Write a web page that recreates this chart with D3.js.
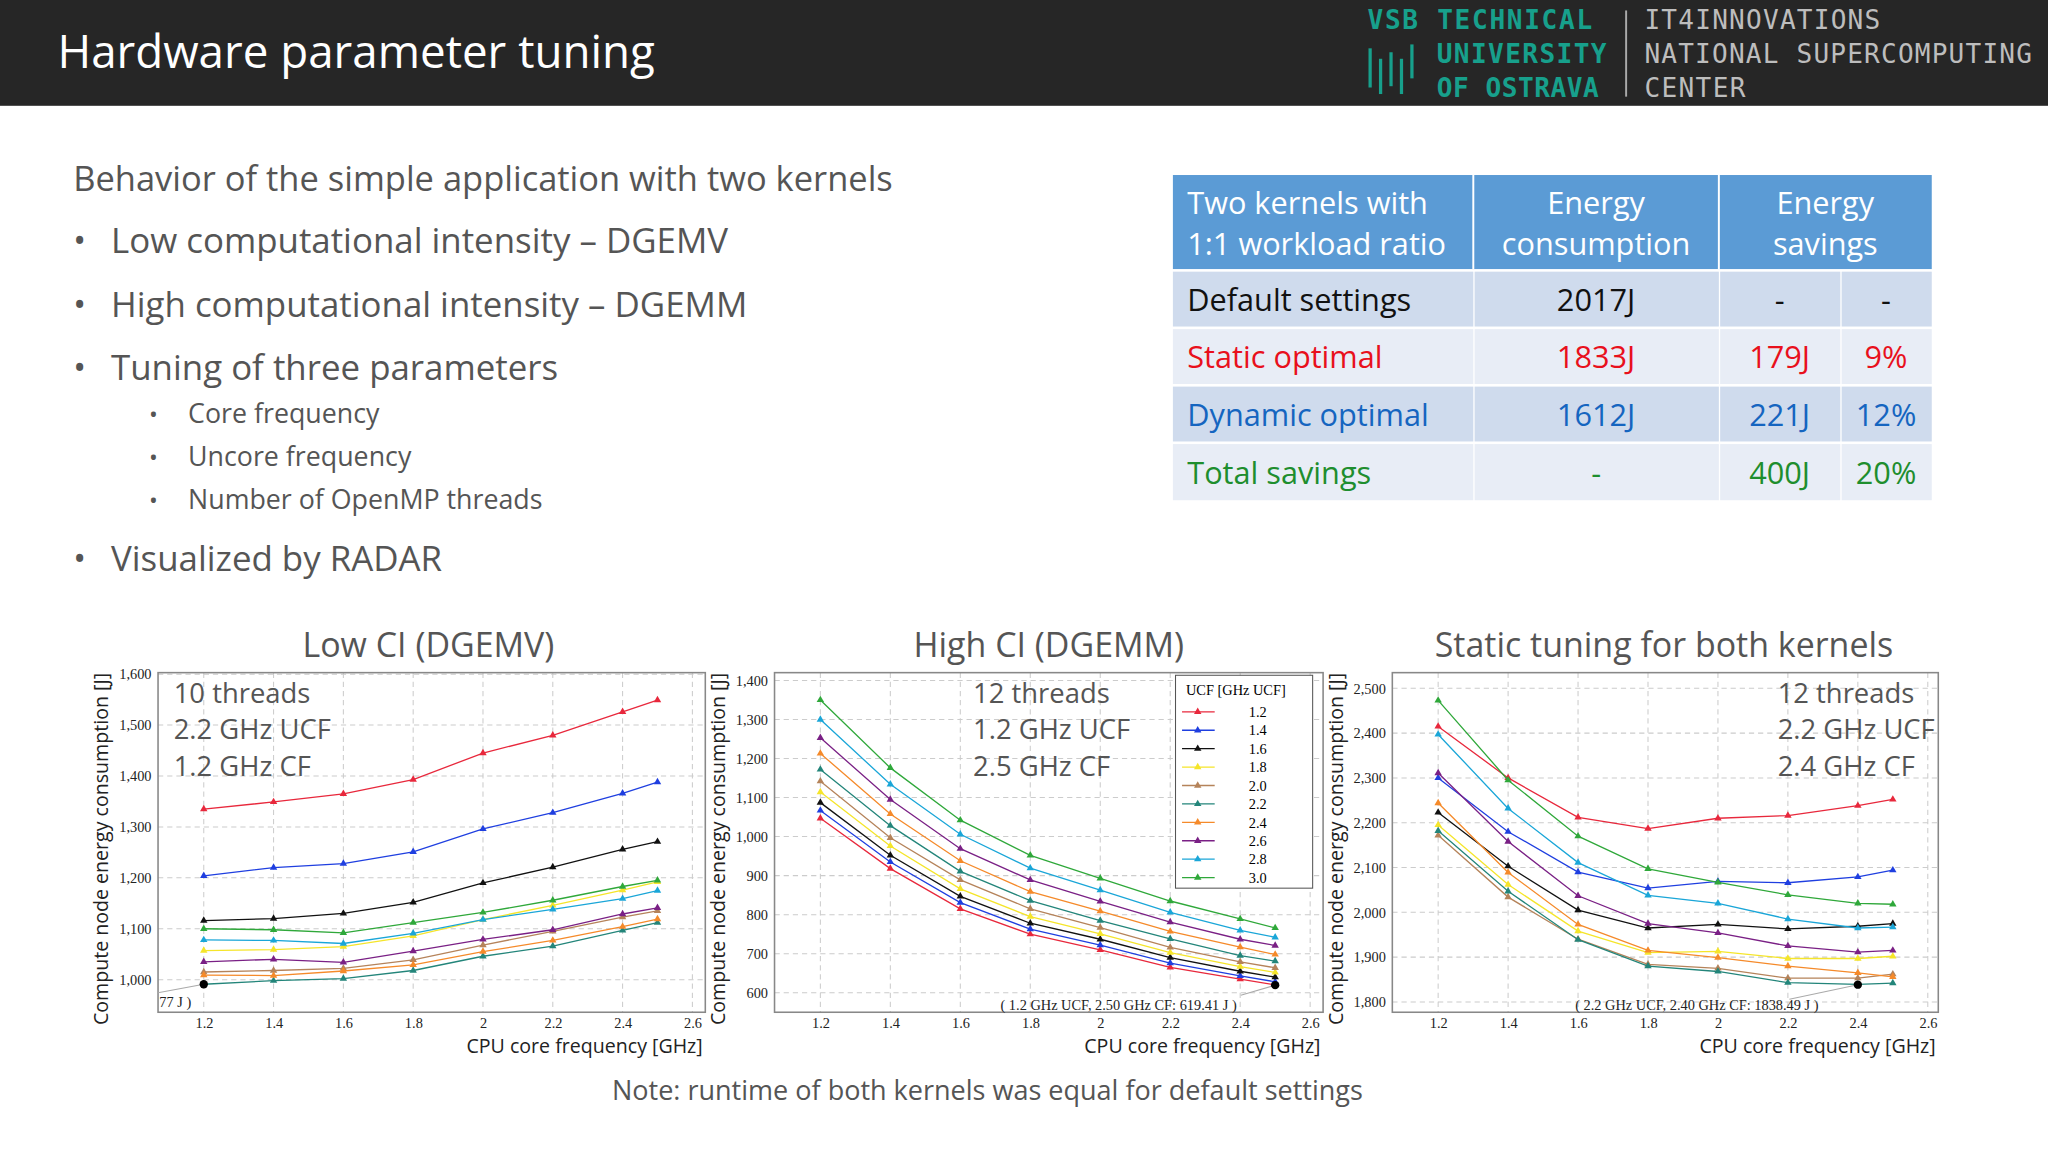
<!DOCTYPE html>
<html><head><meta charset="utf-8">
<script src="https://cdn.jsdelivr.net/npm/d3@7"></script>
<style>
body{margin:0;background:#fff;}
svg{display:block;}
</style></head>
<body>
<script>
// series data
const freqs = [1.2, 1.4, 1.6, 1.8, 2.0, 2.2, 2.4, 2.5];
const ucfLabels = ["1.2","1.4","1.6","1.8","2.0","2.2","2.4","2.6","2.8","3.0"];
const ucfColors = ["#e8283c","#1f3fe0","#111111","#f5e52a","#b5835a","#23857a","#f58a2a","#7a2085","#1aa6d8","#2fa83a"];

const lowCI = [
  [1335,1349,1365,1393,1445,1480,1526,1549],
  [1204,1220,1228,1251,1296,1328,1366,1388],
  [1116,1120,1130,1152,1190,1221,1256,1271],
  [1057,1059,1065,1086,1118,1146,1176,1192],
  [1015,1018,1022,1039,1068,1095,1123,1135],
  [991,998,1002,1018,1046,1066,1097,1112],
  [1009,1008,1017,1029,1055,1077,1104,1119],
  [1035,1040,1034,1056,1079,1098,1129,1141],
  [1078,1077,1071,1091,1118,1138,1159,1175],
  [1100,1098,1092,1112,1132,1156,1183,1195]
];
const highCI = [
  [1047,918,815,750,710,665,635,620],
  [1067,935,831,763,722,676,643,628],
  [1087,952,847,778,737,690,655,640],
  [1114,976,866,795,751,703,667,652],
  [1142,997,889,815,767,716,679,664],
  [1172,1028,911,836,785,738,695,681],
  [1213,1058,938,859,809,757,717,698],
  [1253,1095,969,889,834,781,737,721],
  [1300,1134,1006,919,863,806,760,742],
  [1350,1176,1042,952,893,835,789,766]
];
const staticBoth = [
  [2415,2300,2212,2187,2210,2216,2238,2252],
  [2300,2180,2090,2054,2069,2066,2079,2094],
  [2223,2103,2005,1965,1973,1963,1969,1975],
  [2195,2062,1958,1910,1913,1897,1897,1902],
  [2172,2034,1940,1884,1875,1853,1853,1862],
  [2182,2047,1939,1880,1868,1843,1839,1842],
  [2244,2089,1973,1915,1899,1880,1865,1856],
  [2311,2158,2037,1975,1954,1925,1911,1915],
  [2397,2232,2111,2038,2020,1985,1965,1967],
  [2473,2295,2170,2097,2067,2039,2020,2018]
];

const bullets = ["Low computational intensity – DGEMV","High computational intensity – DGEMM","Tuning of three parameters"];
const subBullets = ["Core frequency","Uncore frequency","Number of OpenMP threads"];

const tableHeader = ["Two kernels with|1:1 workload ratio","Energy|consumption","Energy|savings"];
const tableRows = [
  {label:"Default settings", cons:"2017J", save:"-", pct:"-", color:"#111"},
  {label:"Static optimal", cons:"1833J", save:"179J", pct:"9%", color:"#e8101c"},
  {label:"Dynamic optimal", cons:"1612J", save:"221J", pct:"12%", color:"#1565c0"},
  {label:"Total savings", cons:"-", save:"400J", pct:"20%", color:"#1e8e2e"}
];

const W = 1568, H = 882;
const svg = d3.select("body").append("svg")
  .attr("width", 2048).attr("height", 1152)
  .attr("viewBox", `0 0 ${W} ${H}`);
const sans = "'Open Sans', 'Noto Sans', sans-serif";
const mono = "'DejaVu Sans Mono', monospace";
const serif = "'Liberation Serif', 'DejaVu Serif', serif";

// header bar
svg.append("rect").attr("width", W).attr("height", 81).attr("fill", "#262626");
svg.append("text").attr("x", 44).attr("y", 52).attr("fill", "#fff")
  .attr("font-family", sans).attr("font-size", 35).text("Hardware parameter tuning");

const teal = "#17a08c";
["VSB TECHNICAL","UNIVERSITY","OF OSTRAVA"].forEach((t, i) => {
  svg.append("text").attr("x", i == 0 ? 1047 : 1100).attr("y", 22 + i * 26)
    .attr("fill", teal).attr("font-family", mono).attr("font-weight", "bold")
    .attr("font-size", 20).attr("textLength", i == 0 ? 172 : (i == 1 ? 130 : 124)).text(t);
});
[[1049,37,67],[1057,45,72],[1065,40,66],[1073,45,72],[1081,34,60]].forEach(b => {
  svg.append("line").attr("x1", b[0]).attr("x2", b[0]).attr("y1", b[1]).attr("y2", b[2])
    .attr("stroke", teal).attr("stroke-width", 2.5);
});
svg.append("line").attr("x1", 1245).attr("x2", 1245).attr("y1", 8).attr("y2", 74)
  .attr("stroke", "#aaa").attr("stroke-width", 1.5);
["IT4INNOVATIONS","NATIONAL SUPERCOMPUTING","CENTER"].forEach((t, i) => {
  svg.append("text").attr("x", 1259).attr("y", 22 + i * 26)
    .attr("fill", "#bdbdbd").attr("font-family", mono).attr("font-size", 20)
    .attr("textLength", t.length * 12.9).text(t);
});

// bullet text
const txt = "#555";
svg.append("text").attr("x", 56).attr("y", 146).attr("fill", txt)
  .attr("font-family", sans).attr("font-size", 26.4).text("Behavior of the simple application with two kernels");
bullets.forEach((b, i) => {
  const y = 194 + i * 48.5;
  svg.append("text").attr("x", 56).attr("y", y).attr("fill", txt).attr("font-family", sans).attr("font-size", 26).text("•");
  svg.append("text").attr("x", 85).attr("y", y).attr("fill", txt).attr("font-family", sans).attr("font-size", 26.7).text(b);
});
subBullets.forEach((b, i) => {
  const y = 324 + i * 33;
  svg.append("text").attr("x", 114).attr("y", y).attr("fill", txt).attr("font-family", sans).attr("font-size", 18).text("•");
  svg.append("text").attr("x", 144).attr("y", y).attr("fill", txt).attr("font-family", sans).attr("font-size", 20.5).text(b);
});
svg.append("text").attr("x", 56).attr("y", 437).attr("fill", txt).attr("font-family", sans).attr("font-size", 26).text("•");
svg.append("text").attr("x", 85).attr("y", 437).attr("fill", txt).attr("font-family", sans).attr("font-size", 26.7).text("Visualized by RADAR");

// table
const colX = [898, 1128, 1316, 1409, 1479];
const tb = svg.append("g").attr("font-family", sans);
tb.append("rect").attr("x", 898).attr("y", 134).attr("width", 581).attr("height", 72).attr("fill", "#5b9bd5");
[1128, 1316].forEach(x => tb.append("line").attr("x1", x).attr("x2", x).attr("y1", 134).attr("y2", 206).attr("stroke", "#fff").attr("stroke-width", 1.5));
tableHeader.forEach((h, i) => {
  const parts = h.split("|");
  const left = i == 0;
  const cx = left ? 909 : (colX[i] + (i == 1 ? colX[2] : colX[4])) / 2;
  parts.forEach((p, j) => tb.append("text").attr("x", cx).attr("y", 164 + j * 31)
    .attr("text-anchor", left ? "start" : "middle").attr("fill", "#fff").attr("font-size", 23.5).text(p));
});
const rowY = [208, 252, 296, 340, 385];
tableRows.forEach((r, i) => {
  const y0 = rowY[i], y1 = rowY[i + 1] - 2;
  const fill = i % 2 == 0 ? "#cfdbed" : "#e8edf6";
  for (let c = 0; c < 4; c++) {
    tb.append("rect").attr("x", colX[c] + (c ? 1 : 0)).attr("y", y0).attr("width", colX[c + 1] - colX[c] - (c ? 1 : 0))
      .attr("height", y1 - y0).attr("fill", fill);
  }
  const ty = (y0 + y1) / 2 + 9;
  tb.append("text").attr("x", 909).attr("y", ty).attr("fill", r.color).attr("font-size", 23.5).text(r.label);
  tb.append("text").attr("x", (colX[1] + colX[2]) / 2).attr("y", ty).attr("text-anchor", "middle").attr("fill", r.color).attr("font-size", 23.5).text(r.cons);
  tb.append("text").attr("x", (colX[2] + colX[3]) / 2).attr("y", ty).attr("text-anchor", "middle").attr("fill", r.color).attr("font-size", 23.5).text(r.save);
  tb.append("text").attr("x", (colX[3] + colX[4]) / 2).attr("y", ty).attr("text-anchor", "middle").attr("fill", r.color).attr("font-size", 23.5).text(r.pct);
});

// charts
function drawChart(cfg) {
  const g = svg.append("g");
  const x = d3.scaleLinear().domain(cfg.xDomain).range([cfg.left, cfg.right]);
  const y = d3.scaleLinear().domain(cfg.yDomain).range([cfg.bottom, cfg.top]);

  g.append("text").attr("x", cfg.titleX).attr("y", cfg.top - 12).attr("text-anchor", "middle")
    .attr("fill", "#555").attr("font-family", sans).attr("font-size", 26).text(cfg.title);

  // grid
  const xt = [1.2, 1.4, 1.6, 1.8, 2, 2.2, 2.4, 2.6];
  g.selectAll(".gx").data(xt).join("line")
    .attr("x1", d => x(d)).attr("x2", d => x(d)).attr("y1", cfg.top).attr("y2", cfg.bottom)
    .attr("stroke", "#ccc").attr("stroke-dasharray", "4 3").attr("stroke-width", 0.8);
  g.selectAll(".gy").data(cfg.yTicks).join("line")
    .attr("x1", cfg.left).attr("x2", cfg.right).attr("y1", d => y(d)).attr("y2", d => y(d))
    .attr("stroke", "#ccc").attr("stroke-dasharray", "4 3").attr("stroke-width", 0.8);

  g.append("g").attr("transform", `translate(0,${cfg.bottom})`)
    .call(d3.axisBottom(x).tickValues(xt).tickSize(0).tickPadding(4).tickFormat(d3.format("~g")))
    .call(a => a.select(".domain").remove())
    .selectAll("text").attr("font-family", serif).attr("font-size", 11).attr("fill", "#222");
  g.append("g").attr("transform", `translate(${cfg.left},0)`)
    .call(d3.axisLeft(y).tickValues(cfg.yTicks).tickSize(0).tickPadding(5).tickFormat(d3.format(",")))
    .call(a => a.select(".domain").remove())
    .selectAll("text").attr("font-family", serif).attr("font-size", 11).attr("fill", "#222");

  g.append("rect").attr("x", cfg.left).attr("y", cfg.top).attr("width", cfg.right - cfg.left)
    .attr("height", cfg.bottom - cfg.top).attr("fill", "none").attr("stroke", "#888").attr("stroke-width", 1.2);

  g.append("text").attr("transform", `translate(${cfg.left - 38},${(cfg.top + cfg.bottom) / 2 + 5}) rotate(-90)`)
    .attr("text-anchor", "middle").attr("fill", "#222").attr("font-family", sans).attr("font-size", 15)
    .text("Compute node energy consumption [J]");
  g.append("text").attr("x", cfg.right - 2).attr("y", cfg.bottom + 31).attr("text-anchor", "end")
    .attr("fill", "#222").attr("font-family", sans).attr("font-size", 15).text("CPU core frequency [GHz]");

  // annotation
  const bx = x(cfg.best[0]), by = y(cfg.best[1]);
  g.append("line").attr("x1", cfg.ann[2]).attr("y1", cfg.ann[3]).attr("x2", bx).attr("y2", by)
    .attr("stroke", "#aaa").attr("stroke-width", 0.8);

  const line = d3.line().x((d, i) => x(freqs[i])).y(d => y(d));
  const tri = d3.symbol().type(d3.symbolTriangle).size(14);
  cfg.series.forEach((s, k) => {
    g.append("path").attr("d", line(s)).attr("fill", "none").attr("stroke", ucfColors[k]).attr("stroke-width", 1);
    g.selectAll(null).data(s).join("path")
      .attr("transform", (d, i) => `translate(${x(freqs[i])},${y(d)})`)
      .attr("d", tri).attr("fill", ucfColors[k]);
  });
  g.append("circle").attr("cx", bx).attr("cy", by).attr("r", 3.2).attr("fill", "#000");
  g.append("text").attr("x", cfg.ann[0]).attr("y", cfg.ann[1]).attr("font-family", serif)
    .attr("font-size", 11).attr("fill", "#222").text(cfg.annText);

  cfg.notes.forEach((n, i) => g.append("text").attr("x", cfg.noteX).attr("y", cfg.top + 23 + i * 28)
    .attr("fill", "#555").attr("font-family", sans).attr("font-size", 21).text(n));

  if (cfg.legend) {
    const lx = cfg.legend[0], ly = cfg.legend[1];
    const lg = g.append("g");
    lg.append("rect").attr("x", lx).attr("y", ly).attr("width", 105).attr("height", 163)
      .attr("fill", "#fff").attr("stroke", "#555").attr("stroke-width", 0.8);
    lg.append("text").attr("x", lx + 8).attr("y", ly + 15).attr("font-family", serif).attr("font-size", 11)
      .text("UCF [GHz UCF]");
    ucfLabels.forEach((l, k) => {
      const yy = ly + 28 + k * 14.1;
      lg.append("line").attr("x1", lx + 5).attr("x2", lx + 30).attr("y1", yy).attr("y2", yy)
        .attr("stroke", ucfColors[k]).attr("stroke-width", 1);
      lg.append("path").attr("transform", `translate(${lx + 17},${yy})`).attr("d", tri).attr("fill", ucfColors[k]);
      lg.append("text").attr("x", lx + 63).attr("y", yy + 4).attr("text-anchor", "middle")
        .attr("font-family", serif).attr("font-size", 11).text(l);
    });
  }
}

drawChart({title: "Low CI (DGEMV)", titleX: 328, left: 121, right: 540, top: 515, bottom: 775,
  xDomain: [1.069, 2.637], yDomain: [936, 1603], yTicks: [1000,1100,1200,1300,1400,1500,1600],
  series: lowCI, best: [1.2, 991], ann: [122, 771, 121, 760], annText: "77 J )",
  notes: ["10 threads", "2.2 GHz UCF", "1.2 GHz CF"], noteX: 133});
drawChart({title: "High CI (DGEMM)", titleX: 803, left: 593, right: 1013, top: 515, bottom: 775,
  xDomain: [1.069, 2.637], yDomain: [550, 1420], yTicks: [600,700,800,900,1000,1100,1200,1300,1400],
  series: highCI, best: [2.5, 619.4], ann: [766, 773, 950, 762], annText: "( 1.2 GHz UCF, 2.50 GHz CF: 619.41 J )",
  notes: ["12 threads", "1.2 GHz UCF", "2.5 GHz CF"], noteX: 745, legend: [900, 517]});
drawChart({title: "Static tuning for both kernels", titleX: 1274, left: 1066, right: 1484, top: 515, bottom: 775,
  xDomain: [1.069, 2.63], yDomain: [1777, 2535], yTicks: [1800,1900,2000,2100,2200,2300,2400,2500],
  series: staticBoth, best: [2.4, 1838.5], ann: [1206, 773, 1370, 765], annText: "( 2.2 GHz UCF, 2.40 GHz CF: 1838.49 J )",
  notes: ["12 threads", "2.2 GHz UCF", "2.4 GHz CF"], noteX: 1361});

svg.append("text").attr("x", 756).attr("y", 842).attr("text-anchor", "middle").attr("fill", "#555")
  .attr("font-family", sans).attr("font-size", 20.7).text("Note: runtime of both kernels was equal for default settings");
</script>
</body></html>
